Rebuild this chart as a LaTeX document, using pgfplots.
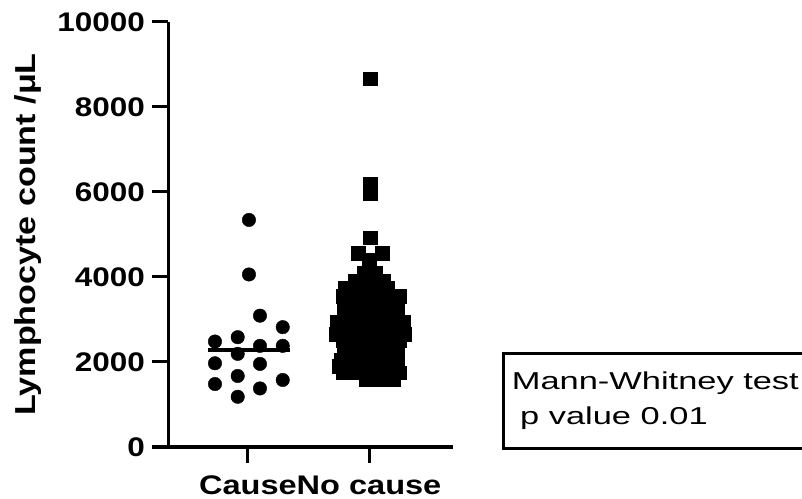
\documentclass[border=0pt]{standalone}
\usepackage{fontspec}
\usepackage{pgfplots}
\pgfplotsset{compat=1.18}
\setmainfont{Liberation Sans}
\newfontfamily\labelfont[FakeStretch=1.18]{Liberation Sans Bold}
\newfontfamily\tickfont[FakeStretch=1.17]{Liberation Sans Bold}
\newfontfamily\catfont[FakeStretch=1.21]{Liberation Sans Bold}
\newfontfamily\boxfont[FakeStretch=1.41]{Liberation Sans}

\begin{document}
\begin{tikzpicture}
\useasboundingbox (0,0) rectangle (802bp,499bp);
\begin{axis}[
    at={(168bp,52bp)}, anchor=south west,
    scale only axis,
    width=285bp, height=425bp,
    xmin=0.339, xmax=2.694,
    ymin=0, ymax=10000,
    axis lines=left,
    axis line style={-, line width=3bp},
    every tick/.style={black, line width=3bp},
    tick align=outside,
    major tick length=16bp,
    xtick={1,2},
    xticklabels={Cause,No cause},
    ytick={0,2000,4000,6000,8000,10000},
    yticklabels={0,2000,4000,6000,8000,10000},
    scaled y ticks=false,
    ticklabel style={font=\tickfont\fontsize{27}{27}\selectfont, inner sep=0pt},
    xticklabel style={font=\catfont\fontsize{27}{27}\selectfont, anchor=base, yshift=-31bp},
    yticklabel style={anchor=east, xshift=-7bp},
    clip=false,
]
% median of Cause
\addplot[black, line width=3.5bp] coordinates {(0.669,2286) (1.347,2286)};

% Cause
\addplot[only marks, mark=*, mark size=6.75bp, black] coordinates {
(1.008,5343) (1.008,4060) (1.099,3090) (1.287,2820)
(0.727,2482) (0.915,2584) (1.099,2380) (1.287,2380)
(0.915,2191) (0.727,1970) (1.099,1955) (0.915,1671)
(0.727,1482) (1.287,1577) (1.099,1378) (0.915,1182)
};

% No cause
\addplot[only marks, mark=square*, mark size=6.75bp, black] coordinates {
(2.008,8670) (2.008,6180) (2.008,5970) (2.008,4930)
(1.909,4560) (2.107,4560)
(2.000,4400)
(1.959,4100) (2.050,4100)
(1.884,3900) (2.000,3900) (2.116,3900)
(1.802,3750) (1.917,3750) (2.033,3750) (2.149,3750)
(1.785,3550) (1.901,3550) (2.017,3550) (2.132,3550) (2.248,3550)
(1.818,3400) (1.934,3400) (2.050,3400) (2.165,3400)
(1.793,3250) (1.909,3250) (2.025,3250) (2.140,3250) (2.231,3250)
(1.835,3100) (1.950,3100) (2.066,3100) (2.182,3100)
(1.736,2950) (1.851,2950) (1.967,2950) (2.083,2950) (2.198,2950) (2.281,2950)
(1.769,2800) (1.884,2800) (2.000,2800) (2.116,2800) (2.231,2800)
(1.727,2650) (1.843,2650) (1.959,2650) (2.074,2650) (2.190,2650) (2.289,2650)
(1.785,2500) (1.901,2500) (2.017,2500) (2.132,2500) (2.248,2500)
(1.818,2350) (1.934,2350) (2.050,2350) (2.165,2350)
(1.793,2200) (1.909,2200) (2.025,2200) (2.140,2200) (2.231,2200)
(1.769,2050) (1.884,2050) (2.000,2050) (2.116,2050) (2.231,2050)
(1.752,1900) (1.868,1900) (1.983,1900) (2.099,1900) (2.215,1900)
(1.785,1750) (1.901,1750) (2.017,1750) (2.132,1750) (2.248,1750)
(1.975,1600) (2.099,1600) (2.198,1600)
};
\end{axis}

\node[rotate=90, anchor=base, inner sep=0pt,
      font=\labelfont\fontsize{29}{29}\selectfont]
  at (35bp,264.5bp) {Lymphocyte count /μL};

\begin{scope}
\clip (0,0) rectangle (802bp,499bp);
\draw[line width=3bp] (503bp,50bp) rectangle (830bp,145bp);
\end{scope}
\node[anchor=base west, inner sep=0pt, font=\boxfont\fontsize{24.5}{24.5}\selectfont]
  at (511.7bp,109bp) {Mann-Whitney test};
\node[anchor=base west, inner sep=0pt, font=\boxfont\fontsize{24.5}{24.5}\selectfont]
  at (520bp,74bp) {p value 0.01};
\end{tikzpicture}
\end{document}
